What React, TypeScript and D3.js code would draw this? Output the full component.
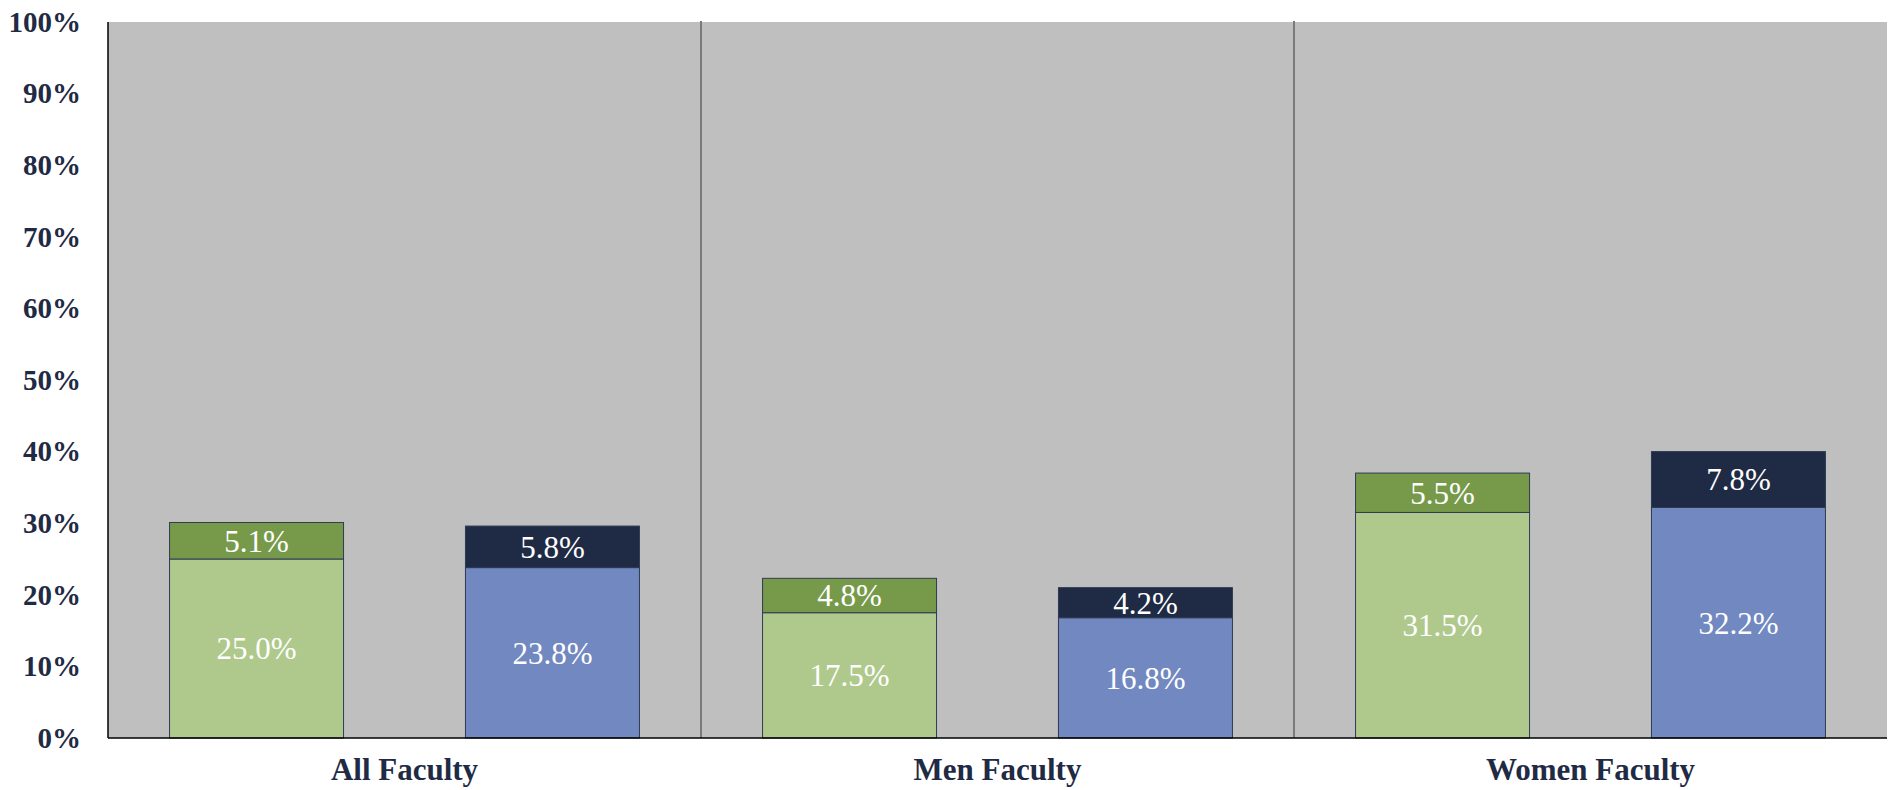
import * as d3 from "d3";
import { useEffect, useRef } from "react";

const categories = ["All Faculty", "Men Faculty", "Women Faculty"];
const bars = ["left", "right"];
// bottom and top segments of each stacked bar (percent)
const leftBase = [25.0, 17.5, 31.5];
const leftTop = [5.1, 4.8, 5.5];
const rightBase = [23.8, 16.8, 32.2];
const rightTop = [5.8, 4.2, 7.8];
const yTicks = [0, 10, 20, 30, 40, 50, 60, 70, 80, 90, 100];

const colors = {
  leftBase: "#afc98c",
  leftTop: "#769a49",
  rightBase: "#7188c0",
  rightTop: "#1f2a44",
};

function App() {
  const ref = useRef<SVGSVGElement>(null);

  useEffect(() => {
    const width = 1889;
    const height = 790;
    const margin = { top: 22, right: 2, bottom: 52, left: 108 };
    const font = "'Liberation Serif', 'Times New Roman', serif";
    const navy = "#1f2a44";

    const svg = d3.select(ref.current!);
    svg.selectAll("*").remove();

    const x0 = d3.scaleBand<string>()
      .domain(categories)
      .range([margin.left, width - margin.right]);
    const x1 = d3.scaleBand<string>()
      .domain(bars)
      .range([0, x0.bandwidth()])
      .paddingInner(0.412)
      .paddingOuter(0.208);
    const y = d3.scaleLinear()
      .domain([0, 100])
      .range([height - margin.bottom, margin.top]);

    // plot background
    svg.append("rect")
      .attr("x", margin.left)
      .attr("y", margin.top)
      .attr("width", width - margin.right - margin.left)
      .attr("height", y(0) - margin.top)
      .attr("fill", "#bfbfbf");

    // group dividers
    svg.append("g")
      .selectAll("line")
      .data(categories.slice(1))
      .join("line")
      .attr("x1", d => x0(d)!)
      .attr("x2", d => x0(d)!)
      .attr("y1", margin.top - 1)
      .attr("y2", y(0))
      .attr("stroke", "#7a7a7a")
      .attr("stroke-width", 2);

    const segments = categories.flatMap((c, i) => [
      { c, bar: "left", y0: 0, y1: leftBase[i], v: leftBase[i], fill: colors.leftBase },
      { c, bar: "left", y0: leftBase[i], y1: leftBase[i] + leftTop[i], v: leftTop[i], fill: colors.leftTop },
      { c, bar: "right", y0: 0, y1: rightBase[i], v: rightBase[i], fill: colors.rightBase },
      { c, bar: "right", y0: rightBase[i], y1: rightBase[i] + rightTop[i], v: rightTop[i], fill: colors.rightTop },
    ]);

    svg.append("g")
      .selectAll("rect")
      .data(segments)
      .join("rect")
      .attr("x", d => x0(d.c)! + x1(d.bar)!)
      .attr("y", d => y(d.y1))
      .attr("width", x1.bandwidth())
      .attr("height", d => y(d.y0) - y(d.y1))
      .attr("fill", d => d.fill)
      .attr("stroke", "#2e3b55")
      .attr("stroke-width", 1);

    svg.append("g")
      .selectAll("text")
      .data(segments)
      .join("text")
      .attr("x", d => x0(d.c)! + x1(d.bar)! + x1.bandwidth() / 2)
      .attr("y", d => (y(d.y0) + y(d.y1)) / 2)
      .attr("dy", "0.35em")
      .attr("text-anchor", "middle")
      .attr("fill", "white")
      .style("font-family", font)
      .style("font-size", "31px")
      .text(d => d.v.toFixed(1) + "%");

    // axes lines
    svg.append("line")
      .attr("x1", margin.left).attr("x2", margin.left)
      .attr("y1", margin.top).attr("y2", y(0))
      .attr("stroke", "black").attr("stroke-width", 1.5);
    svg.append("line")
      .attr("x1", margin.left).attr("x2", width - margin.right)
      .attr("y1", y(0)).attr("y2", y(0))
      .attr("stroke", "black").attr("stroke-width", 1.5);

    const yAxis = svg.append("g")
      .attr("transform", `translate(${margin.left},0)`)
      .call(d3.axisLeft(y).tickValues(yTicks).tickSize(0).tickPadding(27).tickFormat(d => d + "%"));
    yAxis.select(".domain").remove();
    yAxis.selectAll("text")
      .attr("fill", navy)
      .style("font-family", font)
      .style("font-size", "29px")
      .style("font-weight", "bold");

    svg.append("g")
      .selectAll("text")
      .data(categories)
      .join("text")
      .attr("x", d => x0(d)! + x0.bandwidth() / 2)
      .attr("y", 780)
      .attr("text-anchor", "middle")
      .attr("fill", navy)
      .style("font-family", font)
      .style("font-size", "31px")
      .style("font-weight", "bold")
      .text(d => d);
  }, []);

  return (
    <svg ref={ref} width={1889} height={790}
      style={{ position: "absolute", left: 0, top: 0, display: "block" }} />
  );
}

export default App;
